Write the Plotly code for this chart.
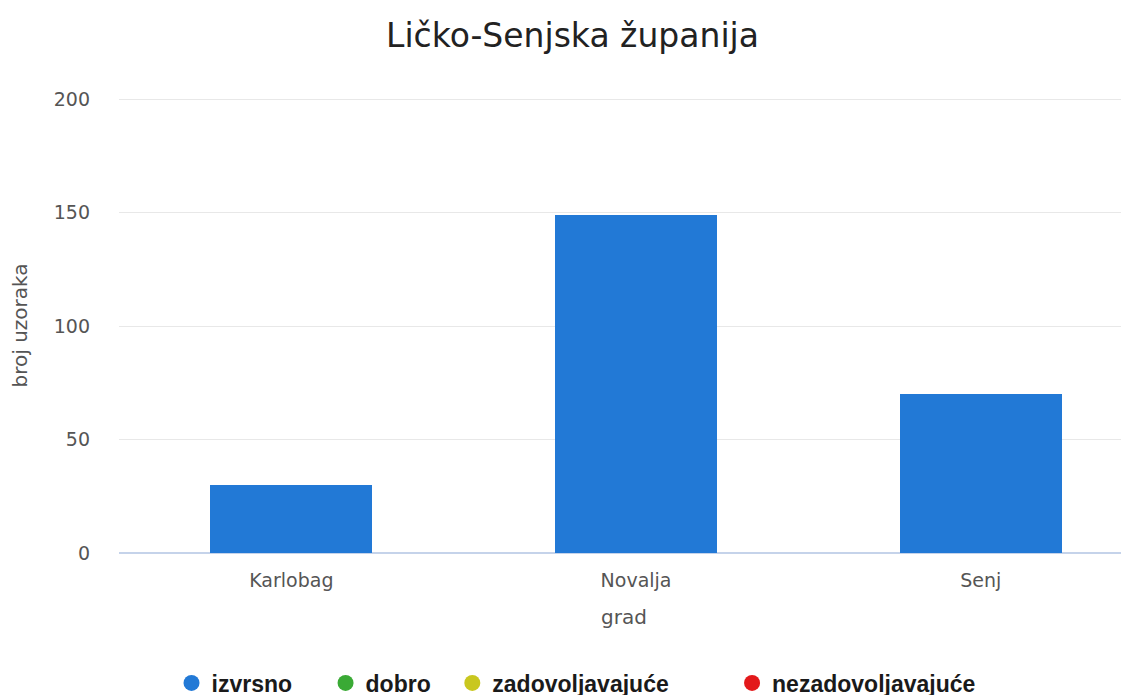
import plotly.graph_objects as go

gradovi = ["Karlobag", "Novalja", "Senj"]
izvrsno = [30, 149, 70]
dobro = [0, 0, 0]
zadovoljavajuce = [0, 0, 0]
nezadovoljavajuce = [0, 0, 0]

serije = [
    ("izvrsno", izvrsno, "#2279d6"),
    ("dobro", dobro, "#3aaa35"),
    ("zadovoljavajuće", zadovoljavajuce, "#c9c71f"),
    ("nezadovoljavajuće", nezadovoljavajuce, "#e3191b"),
]
legend_x = [0.052, 0.2045, 0.330, 0.607]
legend_names = ["legend", "legend2", "legend3", "legend4"]

fig = go.Figure()
for name, vals, col in serije:
    fig.add_trace(go.Bar(x=gradovi, y=vals, name=name, marker=dict(color=col, line=dict(width=0)),
                         showlegend=False, legendgroup=name))
for (name, vals, col), lg in zip(serije, legend_names):
    fig.add_trace(go.Scatter(x=[None], y=[None], mode="markers", name=name, legendgroup=name,
                             legend=lg, marker=dict(color=col, size=21, symbol="circle")))

legend_font = dict(family="Liberation Sans", size=23, color="#1a1a1a", weight="bold")
leg_layout = {}
for lg, lx in zip(legend_names, legend_x):
    leg_layout[lg] = dict(orientation="h", x=lx, xanchor="left", y=0.0288, yref="container",
                          yanchor="middle", font=legend_font, itemsizing="trace",
                          bgcolor="rgba(0,0,0,0)")

fig.update_layout(
    width=1129, height=695,
    barmode="stack", bargap=0.53,
    plot_bgcolor="white", paper_bgcolor="white",
    margin=dict(l=111, r=8, t=90, b=150, autoexpand=False),
    title=dict(text="Ličko-Senjska županija", x=0.5, xanchor="center", xref="container",
               y=0.961, yref="container", yanchor="middle",
               font=dict(family="DejaVu Sans", size=33, color="#222")),
    font=dict(family="DejaVu Sans", color="#555"),
    xaxis=dict(range=[-0.5, 2.43], showgrid=False, showline=False, ticks="",
               tickfont=dict(size=19, color="#555"), ticklabelstandoff=14,
               title=dict(text="grad", font=dict(size=20, color="#555"), standoff=19)),
    yaxis=dict(range=[0, 200.6], tickvals=[0, 50, 100, 150, 200], gridcolor="#e8e8e8", gridwidth=1,
               zeroline=True, zerolinecolor="#c5d3ea", zerolinewidth=1.5,
               tickfont=dict(size=19, color="#555"), ticklabelstandoff=28,
               title=dict(text="broj uzoraka", font=dict(size=20, color="#555"), standoff=20)),
    **leg_layout,
)
fig.write_html("out.html")
